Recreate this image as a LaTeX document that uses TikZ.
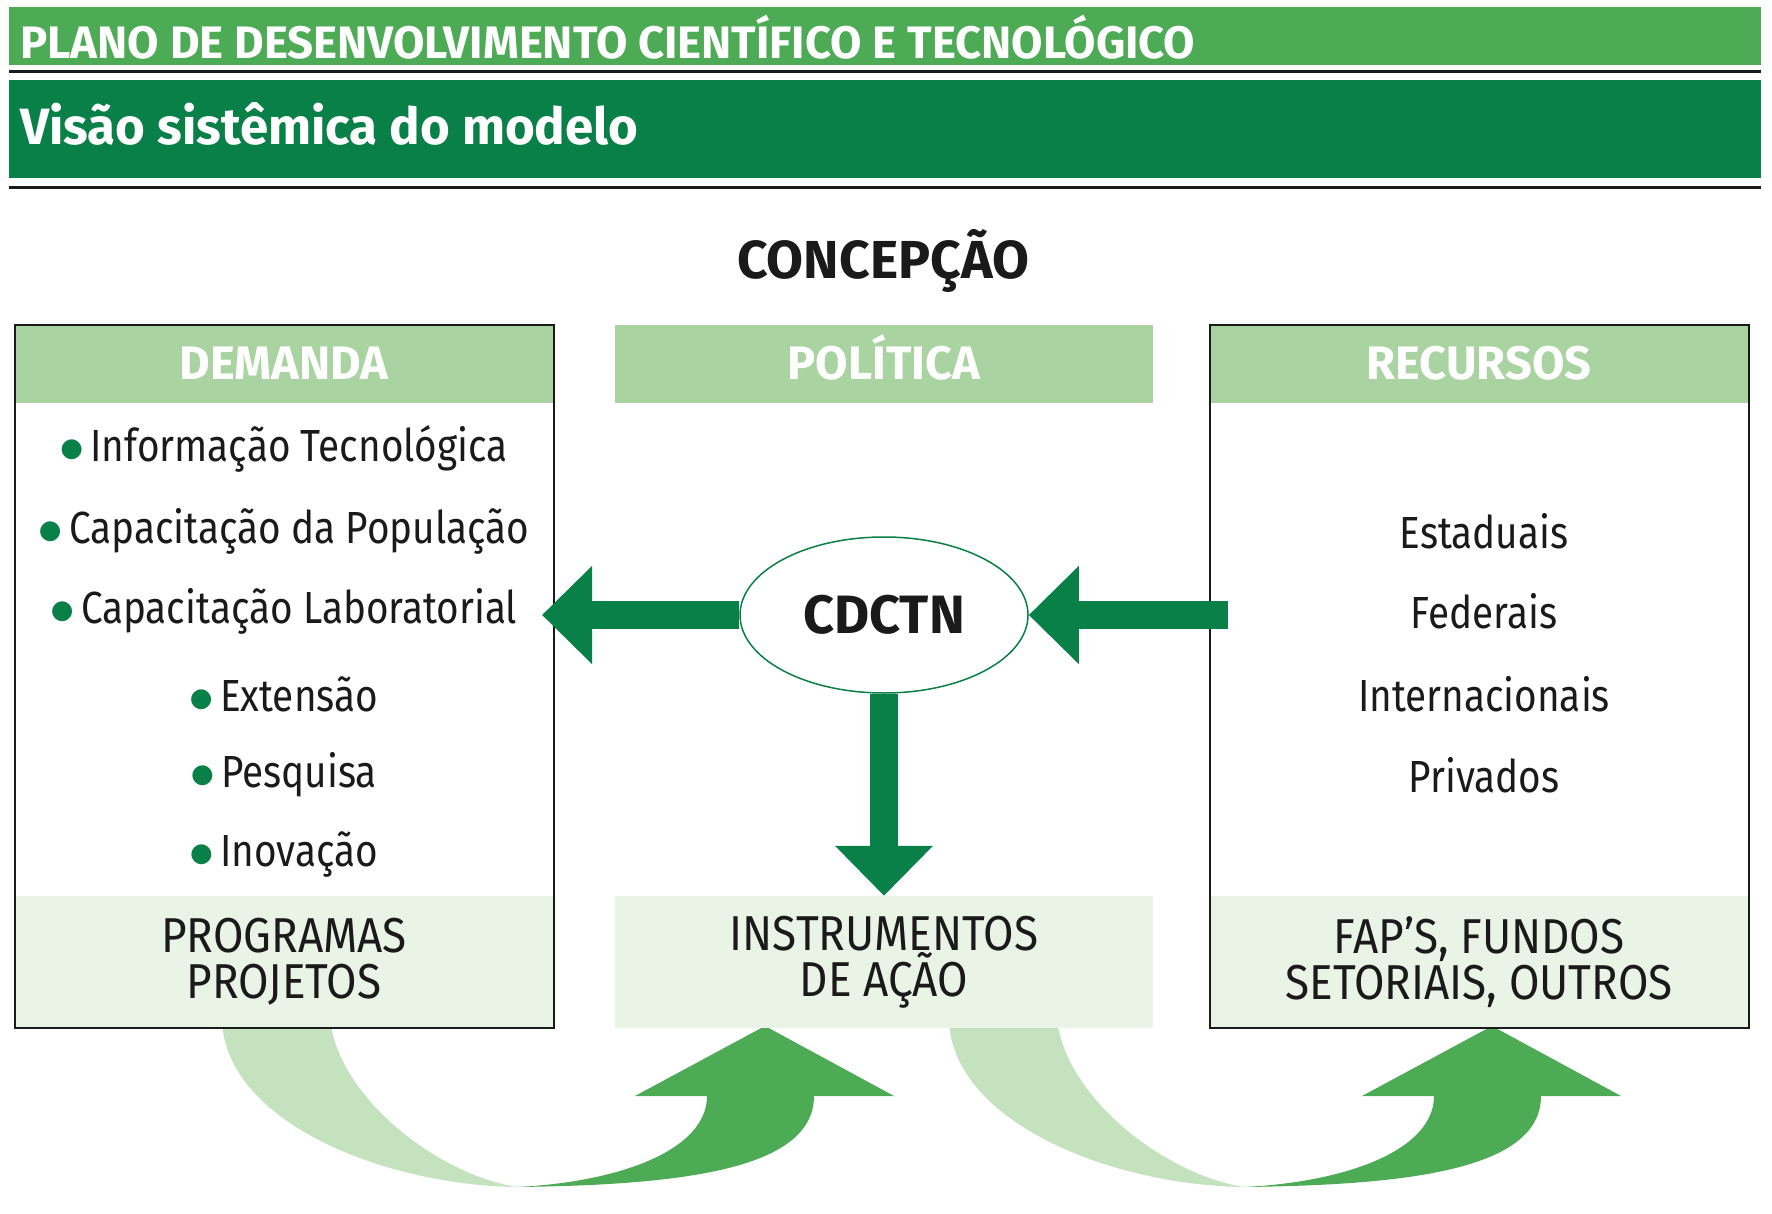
\documentclass[tikz,border=0pt]{standalone}
\usepackage{fontspec}
\setmainfont{Fira Sans}
\newfontfamily\narrowfont[FakeStretch=0.86]{Fira Sans}
\newfontfamily\footfont[FakeStretch=0.9]{Fira Sans}
\newfontfamily\symfont{DejaVu Sans}
\usetikzlibrary{arrows.meta,positioning,shapes.geometric}
\definecolor{pdctgreen}{HTML}{4DAA55}
\definecolor{pdctdark}{HTML}{0A8049}
\definecolor{pdcthead}{HTML}{A9D3A0}
\definecolor{pdctpale}{HTML}{EAF4E6}
\definecolor{pdctribbon}{HTML}{C4E2BE}
\definecolor{pdctink}{HTML}{1A1A1A}
\newcommand{\itm}[1]{\raisebox{5pt}{\textcolor{pdctdark}{\symfont\fontsize{26}{26}\selectfont ●}}\,#1}

\begin{document}
\begin{tikzpicture}[x=1pt,y=-1pt,
  colhead/.style={fill=pdcthead,minimum width=538pt,minimum height=78pt,inner sep=0pt,text height=32pt,text depth=0pt,text=white,font=\fontsize{47}{47}\selectfont\bfseries},
  colfoot/.style={fill=pdctpale,minimum width=538pt,minimum height=132pt,inner sep=0pt,align=center,text=pdctink,font=\footfont\fontsize{49}{46}\selectfont},
  colbox/.style={draw=pdctink,line width=2pt,minimum width=539pt,minimum height=703pt,inner sep=0pt},
  entry/.style={text=pdctink,font=\narrowfont\fontsize{45}{45}\selectfont,inner sep=0pt},
  hub/.style={ellipse,draw=pdctdark,line width=1.5pt,fill=white,minimum width=288pt,minimum height=156pt,inner sep=0pt,font=\fontsize{54}{54}\selectfont\bfseries,text=pdctink},
  flow/.style={draw=pdctdark,line width=28pt,-{Triangle[width=95pt,length=50pt]}},
  banner/.style={anchor=west,inner sep=0pt,text=white}
]
\useasboundingbox (0,0) rectangle (1772,1214);
% title bars
\fill[pdctgreen] (9,7) rectangle (1761,65);
\draw[line width=3pt,pdctink] (9,72) -- (1761,72);
\fill[pdctdark] (9,80) rectangle (1761,178);
\draw[line width=3pt,pdctink] (9,188) -- (1761,188);
\node[banner,font=\bfseries\fontsize{45.5}{45.5}\selectfont] (plano) at (20,37) {PLANO DE DESENVOLVIMENTO CIENTÍFICO E TECNOLÓGICO};
\node[banner,font=\bfseries\fontsize{51}{51}\selectfont] (visao) at (20,124) {Visão sistêmica do modelo};
\node[inner sep=0pt,text=pdctink,font=\bfseries\fontsize{53.5}{53.5}\selectfont] (concepcao) at (883,261) {CONCEPÇÃO};

% ribbons under the columns
\foreach \dx in {0,727}{
  \begin{scope}[xshift=\dx pt]
    \fill[pdctribbon] (222,1020) .. controls (225,1120) and (380,1185) .. (517,1187)
      .. controls (440,1175) and (340,1100) .. (330,1020) -- cycle;
    \fill[pdctgreen] (517,1187) .. controls (680,1185) and (814,1170) .. (814,1096)
      -- (894,1096) -- (765,1026) -- (635,1096) -- (707,1096)
      .. controls (707,1150) and (620,1182) .. (517,1187) -- cycle;
  \end{scope}
}

% columns
\node[colhead] (demandahead) at (284,364) {DEMANDA};
\node[colfoot] (programas) at (284,962) {PROGRAMAS\\PROJETOS};
\node[colbox] (demanda) at (284,676.5) {};
\node[colhead] (politica) at (884,364) {POLÍTICA};
\node[colfoot] (instrumentos) at (884,962) {INSTRUMENTOS\\DE AÇÃO};
\node[colhead] (recursoshead) at (1479,364) {RECURSOS};
\node[colfoot] (fundos) at (1479,962) {FAP’S, FUNDOS\\SETORIAIS, OUTROS};
\node[colbox] (recursos) at (1479,676.5) {};

% demand items
\node[entry] (info) at (284,449) {\itm{Informação Tecnológica}};
\node[entry] (popul) at (284,531) {\itm{Capacitação da População}};
\node[entry] (labor) at (284,611) {\itm{Capacitação Laboratorial}};
\node[entry] (ext) at (284,694) {\itm{Extensão}};
\node[entry] (pesq) at (284,775) {\itm{Pesquisa}};
\node[entry] (inov) at (284,855) {\itm{Inovação}};

% resource items
\node[entry] (estad) at (1484,531) {Estaduais};
\node[entry] (feder) at (1484,611) {Federais};
\node[entry] (inter) at (1484,694) {Internacionais};
\node[entry] (priv) at (1484,775) {Privados};

% hub and arrows
\node[hub] (cdctn) at (884,615) {CDCTN};
\coordinate (ltip) at (542,615);
\coordinate (rtail) at (1228,615);
\draw[flow] (cdctn.west) -- (ltip);
\draw[flow] (rtail) -- (cdctn.east);
\draw[flow] (cdctn.south) -- (instrumentos.north);
\end{tikzpicture}
\end{document}
